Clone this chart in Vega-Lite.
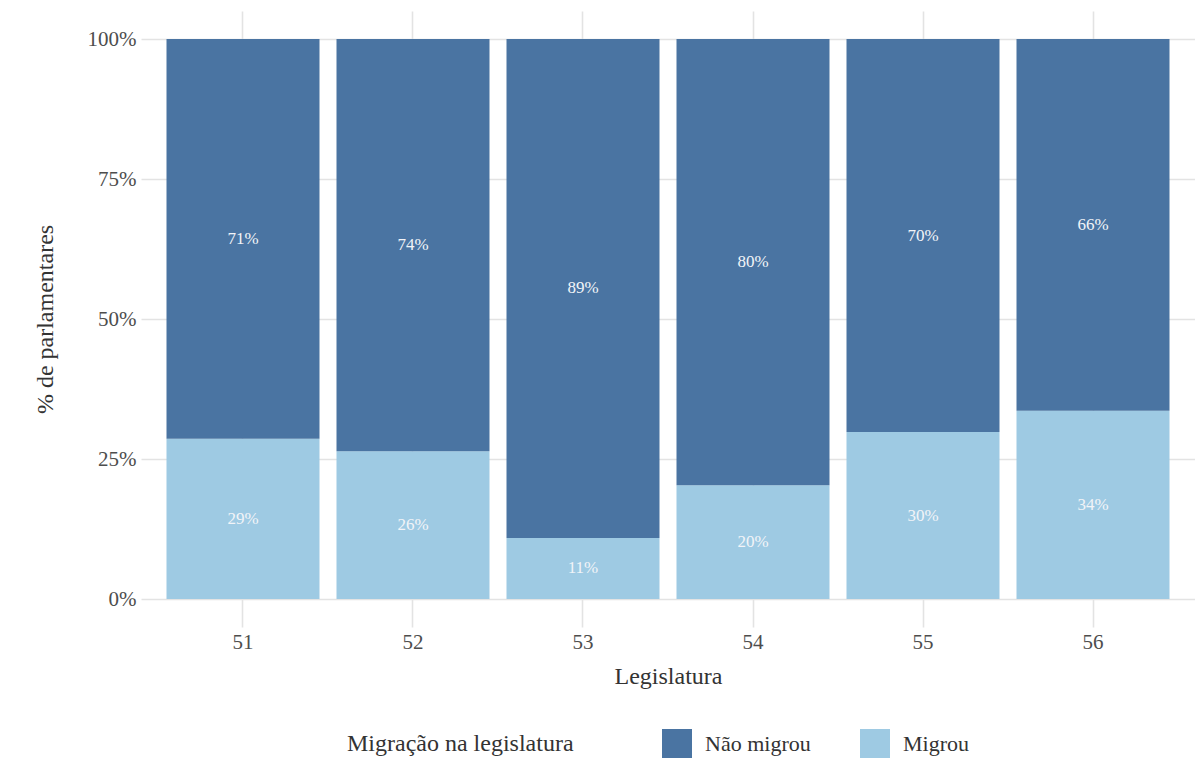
{
  "$schema": "https://vega.github.io/schema/vega-lite/v6.json",
  "width": 1054,
  "height": 616,
  "autosize": {"type": "none"},
  "padding": {"left": 141, "top": 11, "right": 0, "bottom": 131},
  "background": "#ffffff",
  "config": {
    "font": "Liberation Serif",
    "view": {"stroke": null},
    "axis": {"gridColor": "#e3e3e3", "gridWidth": 1.6, "domain": false, "ticks": false, "labelFont": "Liberation Serif", "titleFont": "Liberation Serif"},
    "legend": {"labelFont": "Liberation Serif", "titleFont": "Liberation Serif"},
    "text": {"font": "Liberation Serif"}
  },
  "data": {
    "values": [
      {"legislatura": "51", "status": "Migrou", "value": 0.286},
      {"legislatura": "51", "status": "Não migrou", "value": 0.714},
      {"legislatura": "52", "status": "Migrou", "value": 0.264},
      {"legislatura": "52", "status": "Não migrou", "value": 0.736},
      {"legislatura": "53", "status": "Migrou", "value": 0.109},
      {"legislatura": "53", "status": "Não migrou", "value": 0.891},
      {"legislatura": "54", "status": "Migrou", "value": 0.203},
      {"legislatura": "54", "status": "Não migrou", "value": 0.797},
      {"legislatura": "55", "status": "Migrou", "value": 0.298},
      {"legislatura": "55", "status": "Não migrou", "value": 0.702},
      {"legislatura": "56", "status": "Migrou", "value": 0.336},
      {"legislatura": "56", "status": "Não migrou", "value": 0.664}
    ]
  },
  "transform": [
    {"stack": "value", "groupby": ["legislatura"], "sort": [{"field": "status", "order": "ascending"}], "as": ["y0", "y1"]},
    {"calculate": "(datum.y0 + datum.y1) / 2", "as": "ymid"}
  ],
  "encoding": {
    "x": {
      "field": "legislatura",
      "type": "nominal",
      "scale": {"paddingInner": 0.1, "paddingOuter": 0.15},
      "axis": {
        "title": "Legislatura",
        "labelAngle": 0,
        "labelFontSize": 21,
        "labelColor": "#4d4d4d",
        "labelPadding": 4,
        "titleFontSize": 24,
        "titleFontWeight": "normal",
        "titleColor": "#333333",
        "titlePadding": 12,
        "bandPosition": 0.5,
        "grid": true
      }
    }
  },
  "layer": [
    {
      "mark": {"type": "bar"},
      "encoding": {
        "y": {
          "field": "y0",
          "type": "quantitative",
          "scale": {"domain": [-0.05, 1.05], "nice": false, "zero": false},
          "axis": {
            "title": "% de parlamentares",
            "values": [0, 0.25, 0.5, 0.75, 1],
            "format": ".0%",
            "labelFontSize": 21,
            "labelColor": "#4d4d4d",
            "labelPadding": 5,
            "titleFontSize": 24,
            "titleFontWeight": "normal",
            "titleColor": "#333333",
            "titlePadding": 30
          }
        },
        "y2": {"field": "y1"},
        "color": {
          "field": "status",
          "type": "nominal",
          "scale": {"domain": ["Não migrou", "Migrou"], "range": ["#4a74a2", "#9ecae3"]},
          "legend": {
            "title": "Migração na legislatura",
            "orient": "none",
            "direction": "horizontal",
            "legendX": 206,
            "legendY": 718,
            "titleOrient": "left",
            "titleLimit": 500,
            "titleFontSize": 24,
            "titleFontWeight": "normal",
            "titleColor": "#333333",
            "titlePadding": 88,
            "titleBaseline": "middle",
            "labelFontSize": 22,
            "labelColor": "#333333",
            "labelOffset": 13,
            "symbolType": "square",
            "symbolSize": 900,
            "symbolStrokeWidth": 0,
            "symbolOpacity": 1,
            "columnPadding": 49
          }
        }
      }
    },
    {
      "mark": {"type": "text", "color": "#f2f4f8", "fontSize": 17, "font": "Liberation Serif"},
      "encoding": {
        "y": {"field": "ymid", "type": "quantitative"},
        "text": {"field": "value", "type": "quantitative", "format": ".0%"}
      }
    }
  ]
}
